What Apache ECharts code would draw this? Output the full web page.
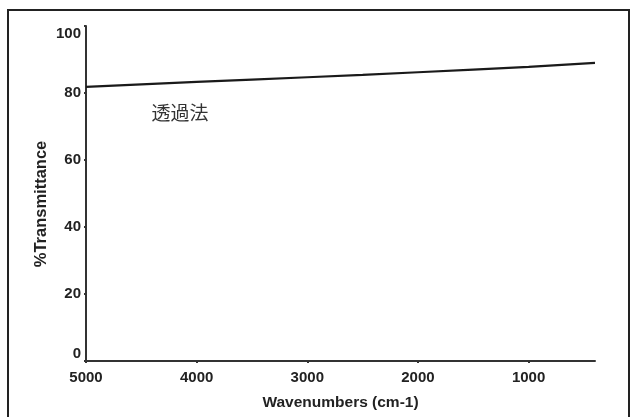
<!DOCTYPE html>
<html>
<head>
<meta charset="utf-8">
<script src="https://cdn.jsdelivr.net/npm/echarts@6/dist/echarts.min.js"></script>
<style>
html,body{margin:0;padding:0;background:#fff;}
#c{width:641px;height:417px;}
</style>
</head>
<body>
<div id="c"></div>
<script>
var wavenumbers = [5000, 4500, 4000, 3500, 3000, 2500, 2000, 1500, 1000, 700, 400];
var transmittance = [81.8, 82.6, 83.3, 84.0, 84.7, 85.4, 86.2, 87.0, 87.8, 88.4, 89.0];
var yTicks = [0, 20, 40, 60, 80, 100];
var xTicks = [5000, 4000, 3000, 2000, 1000];
var annotation = '透過法';
var xTitle = 'Wavenumbers (cm-1)';
var yTitle = '%Transmittance';

var chart = echarts.init(document.getElementById('c'));
var pts = wavenumbers.map(function (w, i) { return [w, transmittance[i]]; });
var font = '"Liberation Sans", Arial, sans-serif';
chart.setOption({
  animation: false,
  backgroundColor: '#fff',
  grid: { left: 86, right: 46, top: 26, bottom: 56 },
  graphic: [
    { type: 'rect', shape: { x: 8, y: 10, width: 621, height: 420 },
      style: { fill: 'none', stroke: '#222', lineWidth: 2 }, z: 10 },
    { type: 'text', x: 180, y: 113,
      style: { text: annotation, fill: '#333', font: '19px "Noto Sans CJK JP", sans-serif', align: 'center', verticalAlign: 'middle' } },
    { type: 'text', x: 41, y: 204, rotation: Math.PI / 2,
      style: { text: yTitle, fill: '#222', font: 'bold 16.5px ' + font, align: 'center', verticalAlign: 'middle' } }
  ],
  xAxis: {
    type: 'value', inverse: true, min: 400, max: 5000,
    name: xTitle, nameLocation: 'middle', nameGap: 34,
    nameTextStyle: { fontFamily: font, fontWeight: 'bold', fontSize: 15.5, color: '#222' },
    axisLine: { lineStyle: { color: '#333', width: 2 } },
    axisTick: { show: true, length: 2, lineStyle: { color: '#333', width: 2 }, customValues: xTicks },
    axisLabel: { fontFamily: font, fontWeight: 'bold', fontSize: 15, color: '#222', margin: 9, customValues: xTicks,
      formatter: function (v) { return String(v); } },
    splitLine: { show: false }
  },
  yAxis: {
    type: 'value', min: 0, max: 100, interval: 20,
    axisLine: { show: true, lineStyle: { color: '#333', width: 2 } },
    axisTick: { show: true, length: 2, lineStyle: { color: '#333', width: 2 } },
    axisLabel: { fontFamily: font, fontWeight: 'bold', fontSize: 15, color: '#222', margin: 5,
      verticalAlignMaxLabel: 'top', verticalAlignMinLabel: 'bottom' },
    splitLine: { show: false }
  },
  series: [{
    type: 'line', data: pts, showSymbol: false,
    lineStyle: { color: '#1a1a1a', width: 2.2 }
  }]
});
</script>
</body>
</html>
